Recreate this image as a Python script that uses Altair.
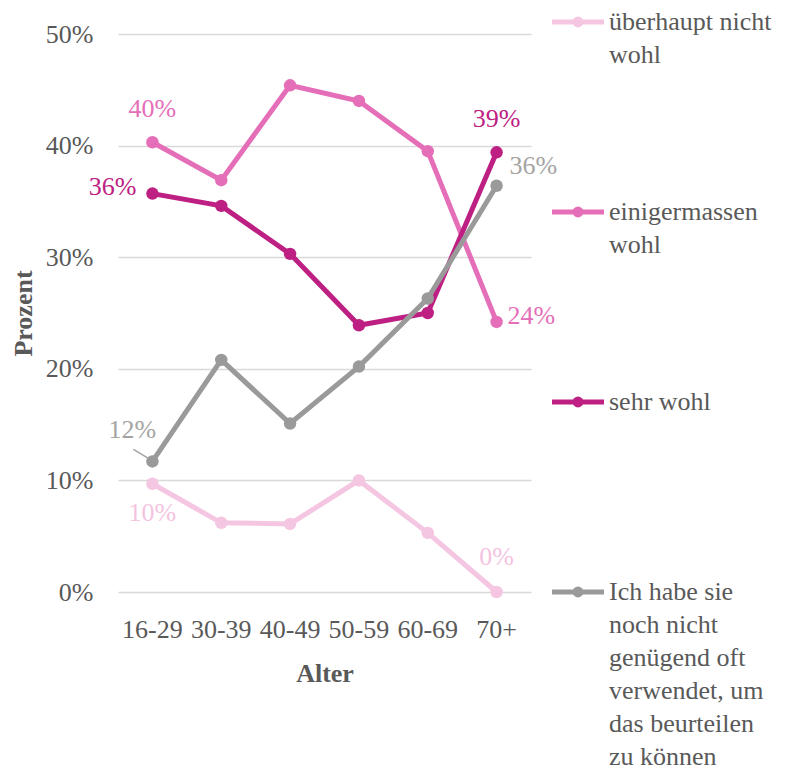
import altair as alt
import pandas as pd

# ---- data ----
ages = ["16-29", "30-39", "40-49", "50-59", "60-69", "70+"]
series_names = [
    "überhaupt nicht wohl",
    "einigermassen wohl",
    "sehr wohl",
    "Ich habe sie noch nicht genügend oft verwendet, um das beurteilen zu können",
]
legend_text = [
    "überhaupt nicht\nwohl",
    "einigermassen\nwohl",
    "sehr wohl",
    "Ich habe sie\nnoch nicht\ngenügend oft\nverwendet, um\ndas beurteilen\nzu können",
]
v_ueberhaupt = [9.7, 6.2, 6.1, 10.0, 5.3, 0.0]
v_einigermassen = [40.3, 36.9, 45.4, 44.0, 39.5, 24.2]
v_sehr = [35.7, 34.6, 30.3, 23.9, 25.0, 39.4]
v_nicht_verwendet = [11.7, 20.8, 15.1, 20.2, 26.3, 36.4]
y_ticks = [0, 10, 20, 30, 40, 50]

colors = ["#F5C6E1", "#E56EB8", "#BD2082", "#9A9A9A"]
label_colors = ["#F4C3DF", "#E56EB8", "#BD2082", "#A4A4A4"]

FONT = "Liberation Serif"
TXT = "#595959"

rows = []
for name, vals in zip(series_names, [v_ueberhaupt, v_einigermassen, v_sehr, v_nicht_verwendet]):
    for a, v in zip(ages, vals):
        rows.append({"Alter": a, "Serie": name, "Prozent": v})
df = pd.DataFrame(rows)

color = alt.Color("Serie:N", scale=alt.Scale(domain=series_names, range=colors), legend=None)
x_enc = alt.X(
    "Alter:N", sort=ages, scale=alt.Scale(domain=ages),
    axis=alt.Axis(labelAngle=0, labelPadding=24, titlePadding=18),
    title="Alter",
)
y_enc = alt.Y(
    "Prozent:Q", scale=alt.Scale(domain=[0, 50]),
    axis=alt.Axis(values=y_ticks, labelExpr="datum.value + '%'", labelPadding=25,
                  grid=True, titlePadding=9),
    title="Prozent",
)

base = alt.Chart(df)
main_layers = []
for name in series_names:
    s = base.transform_filter(alt.datum.Serie == name)
    main_layers.append(s.mark_line(strokeWidth=5).encode(x=x_enc, y=y_enc, color=color))
    main_layers.append(s.mark_circle(size=155, opacity=1).encode(x=x_enc, y=y_enc, color=color))

# value labels at first and last age group: (series idx, age, dx, dy, align)
label_specs = [
    (0, "16-29", 0, 29, "center"),
    (0, "70+", 0, -35, "center"),
    (1, "16-29", 0, -33, "center"),
    (1, "70+", 11, -6, "left"),
    (2, "16-29", -16, -7, "right"),
    (2, "70+", 0, -33, "center"),
    (3, "16-29", -20, -31, "center"),
    (3, "70+", 13, -20, "left"),
]
for idx, age, dx, dy, align in label_specs:
    name = series_names[idx]
    main_layers.append(
        base.transform_filter((alt.datum.Serie == name) & (alt.datum.Alter == age))
        .transform_calculate(lbl="format(datum.Prozent, '.0f') + '%'")
        .mark_text(dx=dx, dy=dy, align=align, baseline="middle", font=FONT,
                   fontSize=26, color=label_colors[idx])
        .encode(x=x_enc, y=y_enc, text=alt.Text("lbl:N"))
    )

# leader line for the 12% label
main_layers.append(
    base.transform_filter((alt.datum.Serie == series_names[3]) & (alt.datum.Alter == "16-29"))
    .mark_rule(color="#A4A4A4", strokeWidth=1.5, xOffset=-19, yOffset=-12,
               x2Offset=-4, y2Offset=-3)
    .encode(x=x_enc, y=y_enc, x2="Alter:N", y2="Prozent:Q")
)

main = alt.layer(*main_layers)

# ---- legend drawn at the right ----
leg_df = pd.DataFrame({"Serie": series_names, "Label": legend_text})
leg_y = alt.Y("Serie:N", scale=alt.Scale(type="point", domain=series_names,
                                          range=[-12, 558], padding=0), axis=None)
leg_base = alt.Chart(leg_df)
legend = alt.layer(
    leg_base.mark_rule(strokeWidth=5).encode(x=alt.value(434), x2=alt.value(486), y=leg_y, color=color),
    leg_base.mark_circle(size=120, opacity=1).encode(x=alt.value(460), y=leg_y, color=color),
    leg_base.mark_text(align="left", baseline="alphabetic", dy=8, lineBreak="\n", lineHeight=33,
                       font=FONT, fontSize=26, color=TXT)
    .encode(x=alt.value(491), y=leg_y, text="Label:N"),
)

chart = (
    alt.layer(main, legend)
    .resolve_scale(y="independent")
    .properties(
        width=413, height=558,
        autosize=alt.AutoSizeParams(type="none"),
        padding={"left": 110, "top": 26, "right": 257, "bottom": 178},
    )
    .configure_view(stroke=None)
    .configure_axis(
        labelFont=FONT, labelFontSize=26, labelColor=TXT,
        titleFont=FONT, titleFontSize=26, titleColor=TXT, titleFontWeight="bold",
        domain=False, ticks=False, grid=False,
        gridColor="#D9D9D9", gridWidth=1.4,
    )
)

chart.save("out.html", embed_options={"renderer": "svg", "actions": False})
